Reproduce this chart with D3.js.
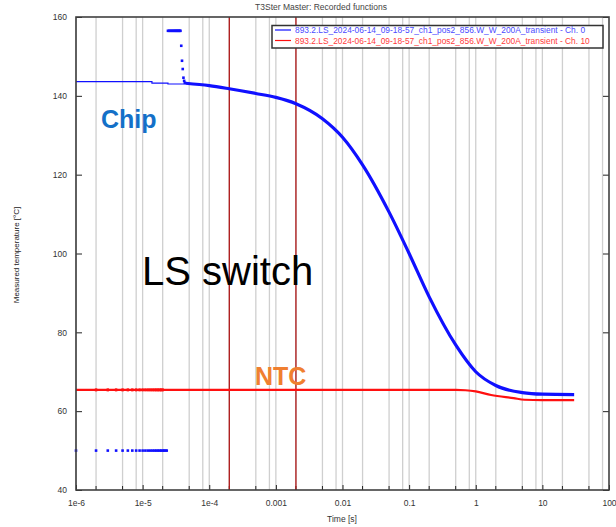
<!DOCTYPE html>
<html><head><meta charset="utf-8">
<script src="https://cdn.jsdelivr.net/npm/d3@7"></script>
<style>
body{margin:0;background:#fff;}
svg{display:block;font-family:"Liberation Sans",Arial,sans-serif;}
</style></head>
<body>
<svg id="c" width="616" height="527"></svg>
<script>
// ---- data ----
const xTickValues = [1e-6,1e-5,1e-4,1e-3,1e-2,1e-1,1,10,100];
const xTickLabels = ["1e-6","1e-5","1e-4","0.001","0.01","0.1","1","10","100"];
const yTickValues = [40,60,80,100,120,140,160];
const gridMultipliers = [1,2,5,8];
const markerTimes = [2e-4, 2e-3];

// Chip (Ch. 0)
const chipFlatT = [1e-6, 1.38e-5, 1.38e-5, 2.4e-5, 2.4e-5, 4.4e-5];
const chipFlatV = [143.6, 143.6, 143.2, 143.2, 143.0, 143.0];
const chipLowT = [1e-6,2e-6,3e-6,4e-6,5e-6,6e-6,7e-6,8e-6,9e-6,10e-6,11e-6,12e-6,13e-6,14e-6,15e-6,16e-6,17e-6,18e-6,19e-6,20e-6,21e-6,22e-6,23e-6];
const chipLowV = [50,50,50,50,50,50,50,50,50,50,50,50,50,50,50,50,50,50,50,50,50,50,50];
const chipSpikeT = [24e-6,25e-6,26e-6,27e-6,28e-6,29e-6,30e-6,31e-6,32e-6,33e-6,34e-6,35e-6,36e-6,37e-6,38e-6,39e-6,40e-6,41e-6,42e-6,43e-6];
const chipSpikeV = [156.5,156.5,156.5,156.5,156.5,156.5,156.5,156.5,156.5,156.5,156.5,156.5,156.5,156.5,152.7,148.9,146.8,144.6,143.8,143.3];
const chipT = [4.4e-5,1e-4,2e-4,5e-4,1e-3,2e-3,5e-3,1e-2,2e-2,5e-2,1e-1,2e-1,5e-1,1,2,5,10,30];
const chipV = [143.2,142.6,141.8,140.6,139.6,138.0,134.2,129.5,122.5,110.5,100.0,89.0,76.8,70.0,66.5,64.7,64.3,64.2];

// NTC (Ch. 10)
const ntcT = [1e-6,1e-4,1e-2,0.5,0.7,1,1.7,3.7,5.4,10,30];
const ntcV = [65.4,65.4,65.4,65.4,65.3,65.0,64.1,63.3,62.9,62.8,62.8];
const ntcDotT = [2e-6,3e-6,4e-6,5e-6,6e-6,7e-6,8e-6,9e-6,10e-6,11e-6,12e-6,13e-6,14e-6,15e-6,16e-6,17e-6,18e-6,19e-6,20e-6];

const legendLabels = [
  "893.2.LS_2024-06-14_09-18-57_ch1_pos2_856.W_W_200A_transient - Ch. 0",
  "893.2.LS_2024-06-14_09-18-57_ch1_pos2_856.W_W_200A_transient - Ch. 10"
];

// ---- drawing ----
const svg = d3.select("#c");
const L=76, R=609, T=17, B=490;
const x = d3.scaleLog().domain([1e-6,100]).range([L,R]);
const y = d3.scaleLinear().domain([40,160]).range([B,T]);

const blue="#1010ff", red="#ff1010";

// grid
const gridVals=[];
xTickValues.slice(0,-1).forEach(d=>gridMultipliers.forEach(m=>gridVals.push(d*m)));
svg.append("g").selectAll("line").data(gridVals).join("line")
  .attr("x1",d=>x(d)).attr("x2",d=>x(d)).attr("y1",T).attr("y2",B)
  .attr("stroke","#cfcfcf").attr("stroke-width",1.3);

// x axis
const xa = svg.append("g").attr("transform",`translate(0,${B})`)
  .call(d3.axisBottom(x).tickValues(xTickValues).tickSize(-5).tickPadding(10)
  .tickFormat((d,i)=>xTickLabels[i]));
xa.select(".domain").remove();
xa.selectAll("text").attr("font-size",8.5).attr("fill","#333").attr("font-family","Liberation Sans, Arial");
xa.selectAll("line").attr("stroke","#222");
// minor x ticks (2,5)
const minorX=[];
xTickValues.slice(0,-1).forEach(d=>[2,5].forEach(m=>minorX.push(d*m)));
svg.append("g").selectAll("line").data(minorX).join("line")
  .attr("x1",d=>x(d)).attr("x2",d=>x(d)).attr("y1",B).attr("y2",B-4)
  .attr("stroke","#222");

// y axis
const ya = svg.append("g").attr("transform",`translate(${L},0)`)
  .call(d3.axisLeft(y).tickValues(yTickValues).tickSize(-6).tickPadding(9));
ya.select(".domain").remove();
ya.selectAll("text").attr("font-size",8.5).attr("fill","#333").attr("font-family","Liberation Sans, Arial");
ya.selectAll("line").attr("stroke","#222");
const yr = svg.append("g").attr("transform",`translate(${R},0)`)
  .call(d3.axisRight(y).tickValues(yTickValues).tickSize(-6).tickFormat(""));
yr.select(".domain").remove();
yr.selectAll("line").attr("stroke","#222");

// red markers
svg.append("g").selectAll("line").data(markerTimes).join("line")
  .attr("x1",d=>x(d)).attr("x2",d=>x(d)).attr("y1",T).attr("y2",B)
  .attr("stroke","#b01818").attr("stroke-width",1.3);

const line = d3.line().x(d=>x(d[0])).y(d=>y(d[1]));
const lineC = d3.line().x(d=>x(d[0])).y(d=>y(d[1])).curve(d3.curveMonotoneX);
const zip=(a,b)=>a.map((t,i)=>[t,b[i]]);

// NTC
svg.append("path").datum(zip(ntcT,ntcV)).attr("d",lineC)
  .attr("fill","none").attr("stroke",red).attr("stroke-width",2.2);
svg.append("g").selectAll("rect").data(ntcDotT).join("rect")
  .attr("x",d=>x(d)-1.2).attr("y",y(65.4)-1.5).attr("width",2.4).attr("height",3).attr("fill",red);

// Chip
svg.append("path").datum(zip(chipFlatT,chipFlatV)).attr("d",line)
  .attr("fill","none").attr("stroke",blue).attr("stroke-width",1.2);
svg.append("path").datum(zip(chipT,chipV)).attr("d",lineC)
  .attr("fill","none").attr("stroke",blue).attr("stroke-width",3.2);
svg.append("g").selectAll("rect").data(zip(chipLowT,chipLowV)).join("rect")
  .attr("x",d=>x(d[0])-1.3).attr("y",d=>y(d[1])-1.3).attr("width",2.6).attr("height",2.6).attr("fill",blue);
svg.append("g").selectAll("rect").data(zip(chipSpikeT,chipSpikeV)).join("rect")
  .attr("x",d=>x(d[0])-1.3).attr("y",d=>y(d[1])-1.3).attr("width",2.6).attr("height",2.6).attr("fill",blue);

// frame
svg.append("rect").attr("x",L).attr("y",T).attr("width",R-L).attr("height",B-T)
  .attr("fill","none").attr("stroke","#404040").attr("stroke-width",1.6);

// legend
const lg = svg.append("g");
lg.append("rect").attr("x",272).attr("y",25.5).attr("width",331).attr("height",22.5)
  .attr("fill","#fff").attr("stroke","#333").attr("stroke-width",1.5);
[blue,red].forEach((c,i)=>{
  const yy = 30+i*10.5;
  lg.append("line").attr("x1",275).attr("x2",291).attr("y1",yy).attr("y2",yy).attr("stroke",c).attr("stroke-width",1.2);
  lg.append("text").attr("x",295).attr("y",yy+3).attr("font-size",8.4)
    .attr("fill",i===0?"#4a4aff":"#ff3a3a").text(legendLabels[i]);
});

// titles
svg.append("text").attr("x",321).attr("y",10).attr("text-anchor","middle")
  .attr("font-size",8.5).attr("fill","#444").text("T3Ster Master: Recorded functions");
svg.append("text").attr("x",342).attr("y",522).attr("text-anchor","middle")
  .attr("font-size",8.5).attr("fill","#333").text("Time [s]");
svg.append("text").attr("transform","translate(19,255) rotate(-90)").attr("text-anchor","middle")
  .attr("font-size",8).attr("fill","#222").text("Measured temperature [°C]");

// annotations
svg.append("text").attr("x",101).attr("y",128).attr("font-size",25).attr("font-weight","bold")
  .attr("fill","#1470c8").text("Chip");
svg.append("text").attr("x",255).attr("y",385).attr("font-size",25).attr("font-weight","bold")
  .attr("fill","#f07f30").text("NTC");
svg.append("text").attr("x",142).attr("y",285).attr("font-size",40)
  .attr("fill","#000").text("LS switch");
</script>
</body></html>
